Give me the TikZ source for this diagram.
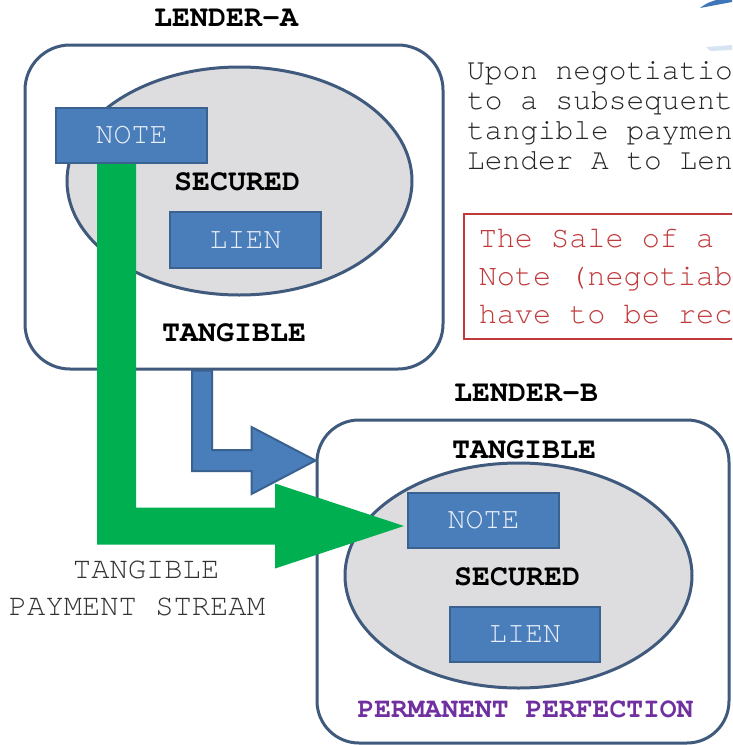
\documentclass[tikz,border=0pt]{standalone}
\usepackage{fontspec}
\newfontfamily\cour{TeX Gyre Cursor}
\usetikzlibrary{calc,shapes.geometric}
\definecolor{frame}{HTML}{3F5A7C}
\definecolor{ellgray}{HTML}{DDDDDF}
\definecolor{docblue}{HTML}{4A7EBB}
\definecolor{docedge}{HTML}{3A6190}
\definecolor{doctext}{HTML}{E8EEF7}
\definecolor{greenA}{HTML}{00B050}
\definecolor{redc}{HTML}{C0393B}
\definecolor{purp}{HTML}{7030A0}
\definecolor{blobblue}{HTML}{3F76BA}
\tikzset{
  lenderbox/.style={rectangle, draw=frame, line width=3pt, rounded corners=45pt, inner sep=0, fill=white},
  securedell/.style={ellipse, draw=frame, line width=3pt, fill=ellgray, inner sep=0},
  docbox/.style={rectangle, draw=docedge, line width=2pt, fill=docblue, text=doctext, inner sep=0,
    minimum width=151pt, minimum height=55pt, font=\cour\fontsize{30}{30}\selectfont},
  boldlabel/.style={font=\cour\bfseries\fontsize{30}{30}\selectfont, inner sep=0, text=black},
  bluearrow/.style={fill=docblue, draw=docedge, line width=2pt, line join=miter},
  greenarrow/.style={fill=greenA},
}
\begin{document}
\begin{tikzpicture}[x=1pt,y=-1pt]
\useasboundingbox (0,0) rectangle (732,745);
\clip (0,0) rectangle (732,745);
\fill[white] (0,0) rectangle (732,745);
% cropped shape at top right
\fill[blobblue] (700,8) .. controls (707,3) .. (716,0) -- (732,0) -- (732,2) -- cycle;
\fill[blobblue!20] (706,47) -- (732,45) -- (732,50) -- (710,51) -- cycle;

% ---------- Lender A ----------
\node[boldlabel] (lenderA) at (226,18) {LENDER-A};
\node[lenderbox, minimum width=418pt, minimum height=324pt] (boxA) at (234,207) {};
\node[securedell, minimum width=345pt, minimum height=228pt] (ellA) at (239.5,181) {};
\node[docbox] (noteA) at (131.5,135.5) {NOTE};
\node[boldlabel] (secA) at (237,182) {SECURED};
\node[docbox, minimum height=56pt] (lienA) at (245.5,240) {LIEN};
\node[boldlabel] (tangA) at (234,333) {TANGIBLE};

% ---------- text on the right ----------
\node[anchor=north west, inner sep=0, align=left, text=black!85,
      font=\cour\fontsize{29.5}{30}\selectfont] (upon) at (467,61)
  {Upon negotiation\\to a subsequent\\tangible payment\\Lender A to Lender};
\node[anchor=north west, draw=redc, line width=1.5pt, minimum height=125pt, text width=400pt,
      inner xsep=15pt, inner ysep=0, align=left, text=redc,
      font=\cour\fontsize{30.2}{38}\selectfont] (sale) at (463,213)
  {\spaceskip=18.12pt\relax The Sale of a\\Note (negotiable)\\have to be recorded};

% ---------- Lender B ----------
\node[boldlabel] (lenderB) at (526,393) {LENDER-B};
\node[lenderbox, rounded corners=42pt, minimum width=412pt, minimum height=323pt] (boxB) at (523,581.5) {};
\node[boldlabel] (tangB) at (524,450) {TANGIBLE};
\node[securedell, minimum width=347pt, minimum height=225pt] (ellB) at (518.5,575.5) {};
\node[docbox] (noteB) at (483.5,520.5) {NOTE};
\node[boldlabel] (secB) at (517,577) {SECURED};
\node[docbox, minimum width=150pt] (lienB) at (525,634.5) {LIEN};
\node[boldlabel, text=purp, font=\cour\bfseries\fontsize{28}{28}\selectfont] (permB) at (525.5,709) {PERMANENT PERFECTION};

% ---------- blue arrow: Lender A -> Lender B ----------
\coordinate (bL) at ($(boxA.south)+(-42,0)$);
\coordinate (bT) at ($(boxB.north west)+(0,42)$);
\filldraw[bluearrow] let \p1=(bL), \p2=(bT) in
  (\x1,\y1) -- (\x1,\y2-10.5pt) -- (\x2-64pt,\y2-10.5pt) -- (\x2-64pt,\y2-33.5pt) -- (\x2,\y2)
  -- (\x2-64pt,\y2+33.5pt) -- (\x2-64pt,\y2+10.5pt) -- (\x1+20pt,\y2+10.5pt) -- (\x1+20pt,\y1) -- cycle;

% ---------- green arrow: NOTE A -> NOTE B ----------
\coordinate (gL) at ($(noteA.south)+(-34.5,0)$);
\coordinate (gT) at ($(noteB.west)+(-3,5.5)$);
\fill[greenarrow] let \p1=(gL), \p2=(gT) in
  (\x1,\y1) -- (\x1,\y2-18.5pt) -- (\x2-129pt,\y2-18.5pt) -- (\x2-129pt,\y2-42.5pt) -- (\x2,\y2)
  -- (\x2-129pt,\y2+42.5pt) -- (\x2-129pt,\y2+18.5pt) -- (\x1+39pt,\y2+18.5pt) -- (\x1+39pt,\y1) -- cycle;

\node[inner sep=0, align=center, text=black!80, font=\cour\fontsize{30.5}{37}\selectfont] (stream) at (137,588.5)
  {\phantom{M}TANGIBLE\\PAYMENT STREAM};
\end{tikzpicture}
\end{document}
